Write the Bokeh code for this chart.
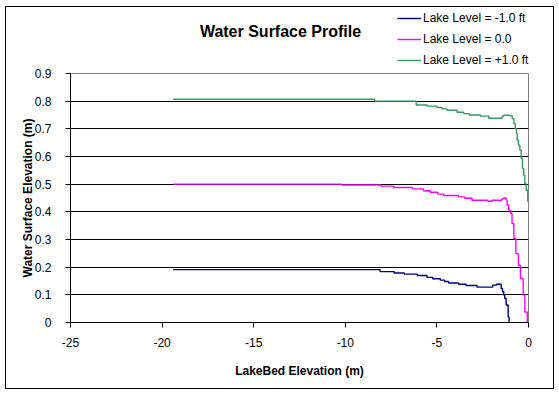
from bokeh.plotting import figure
from bokeh.layouts import column
from bokeh.models import (Range1d, FixedTicker, CustomJSTickFormatter, Legend, LegendItem, Label)
from bokeh.embed import file_html
from bokeh.resources import INLINE

# ---- data ----
x_lo = [-19.4, -8.1, -7.33, -6.78, -6.06, -5.54, -5.23, -4.81, -4.58, -4.36, -3.81, -3.41,
        -2.81, -1.95, -1.75, -1.49, -1.42, -1.35, -1.30, -1.22, -1.11, -1.06]
y_lo = [0.191, 0.184, 0.179, 0.175, 0.170, 0.163, 0.158, 0.153, 0.148, 0.143, 0.138, 0.134,
        0.128, 0.135, 0.138, 0.123, 0.111, 0.099, 0.087, 0.063, 0.020, 0.0]

x_mid = [-19.4, -10.2, -8.06, -7.37, -6.33, -5.73, -5.36, -4.96, -4.63, -3.81, -3.48, -3.08,
         -2.23, -1.99, -1.46, -1.35, -1.22, -1.17, -1.08, -0.98, -0.90, -0.80, -0.69, -0.55,
         -0.44, -0.29, -0.20, -0.07]
y_mid = [0.500, 0.497, 0.493, 0.488, 0.483, 0.476, 0.471, 0.464, 0.459, 0.454, 0.449, 0.442,
         0.438, 0.442, 0.447, 0.450, 0.444, 0.424, 0.406, 0.394, 0.358, 0.304, 0.249, 0.207,
         0.159, 0.099, 0.038, 0.002]

x_hi = [-19.4, -8.4, -6.13, -5.54, -5.0, -4.72, -4.45, -3.90, -3.54, -3.23, -2.63, -2.17,
        -1.44, -1.35, -1.04, -0.89, -0.80, -0.72, -0.66, -0.62, -0.55, -0.47, -0.40, -0.33,
        -0.26, -0.20, -0.13, -0.04]
y_hi = [0.807, 0.800, 0.786, 0.782, 0.777, 0.772, 0.767, 0.760, 0.755, 0.750, 0.746, 0.738,
        0.746, 0.749, 0.747, 0.737, 0.719, 0.701, 0.683, 0.659, 0.641, 0.623, 0.593, 0.557,
        0.532, 0.502, 0.478, 0.436]

series_names = ["Lake Level = -1.0 ft", "Lake Level = 0.0", "Lake Level = +1.0 ft"]
series_colors = ["#000080", "#FF00FF", "#339966"]

x_ticks = [-25, -20, -15, -10, -5, 0]
y_ticks = [0, 0.1, 0.2, 0.3, 0.4, 0.5, 0.6, 0.7, 0.8, 0.9]

chart_title = "Water Surface Profile"
x_label = "LakeBed Elevation (m)"
y_label = "Water Surface Elevation (m)"

FONT = "Liberation Sans"
W = 547
H_HEAD = 61
H_MAIN = 320
NAN = float("nan")

# ---- header: title + legend ----
hdr = figure(width=W, height=H_HEAD, output_backend="svg", toolbar_location=None,
             x_range=Range1d(0, W), y_range=Range1d(H_HEAD, 0),
             x_axis_location=None, y_axis_location=None, frame_align=False,
             min_border_left=0, min_border_right=0, min_border_top=0, min_border_bottom=0)
hdr.grid.visible = False
hdr.outline_line_color = None
hdr.background_fill_color = "white"
hdr.border_fill_color = "white"

# legend-only renderers (one undefined point each, so nothing is drawn in the header)
leg_r = [hdr.line([NAN, NAN], [NAN, NAN], line_color=c, line_width=1.4) for c in series_colors]
legend = Legend(items=[LegendItem(label=n, renderers=[r]) for n, r in zip(series_names, leg_r)],
                location=(391, 0), orientation="vertical")
legend.padding = 0
legend.margin = 0
legend.spacing = 5
legend.glyph_width = 24
legend.glyph_height = 16
legend.label_height = 16
legend.label_standoff = 2
legend.label_text_font = FONT
legend.label_text_font_size = "12px"
legend.label_text_color = "black"
legend.background_fill_alpha = 0
legend.border_line_color = None
hdr.add_layout(legend, "center")

hdr.add_layout(Label(x=274, y=23.5, text=chart_title, text_font=FONT, text_font_size="16px",
                     text_font_style="bold", text_align="center", text_baseline="middle",
                     text_color="black"))

# ---- main plot ----
p = figure(width=W, height=H_MAIN, output_backend="svg", toolbar_location=None,
           x_range=Range1d(-25, 0), y_range=Range1d(0, 0.9), frame_align=False,
           min_border_left=64, min_border_right=25, min_border_top=5, min_border_bottom=66)
p.background_fill_color = "white"
p.border_fill_color = "white"
p.outline_line_color = "#808080"
p.outline_line_width = 1

for ax in (p.xaxis[0], p.yaxis[0]):
    ax.axis_line_color = "black"
    ax.major_tick_line_color = "black"
    ax.minor_tick_line_color = None
    ax.major_tick_out = 5
    ax.major_tick_in = 0
    ax.major_label_text_font = FONT
    ax.major_label_text_font_size = "12px"
    ax.major_label_text_color = "black"
    ax.axis_label_text_font = FONT
    ax.axis_label_text_font_size = "12px"
    ax.axis_label_text_font_style = "bold"
    ax.axis_label_text_color = "black"

p.xaxis.ticker = FixedTicker(ticks=x_ticks)
p.yaxis.ticker = FixedTicker(ticks=y_ticks)
p.xaxis.formatter = CustomJSTickFormatter(code="return tick.toFixed(0)")
p.yaxis.formatter = CustomJSTickFormatter(code="return tick == 0 ? '0' : tick.toFixed(1)")
p.xaxis.axis_label = x_label
p.yaxis.axis_label = y_label
p.xaxis.major_label_standoff = 10
p.yaxis.major_label_standoff = 14
p.xaxis.axis_label_standoff = 14
p.yaxis.axis_label_standoff = -3

p.xgrid.grid_line_color = None
p.ygrid.ticker = FixedTicker(ticks=y_ticks[1:-1])
p.ygrid.grid_line_color = "black"
p.ygrid.grid_line_width = 1

p.step(x_lo, y_lo, mode="after", line_color=series_colors[0], line_width=1.4)
p.step(x_mid, y_mid, mode="after", line_color=series_colors[1], line_width=1.4)
p.step(x_hi, y_hi, mode="after", line_color=series_colors[2], line_width=1.4)

layout = column(hdr, p, spacing=0, margin=(6, 0, 0, 5),
                styles={"border": "1px solid black", "background-color": "white"})

open("out.html", "w").write(file_html(layout, INLINE))
